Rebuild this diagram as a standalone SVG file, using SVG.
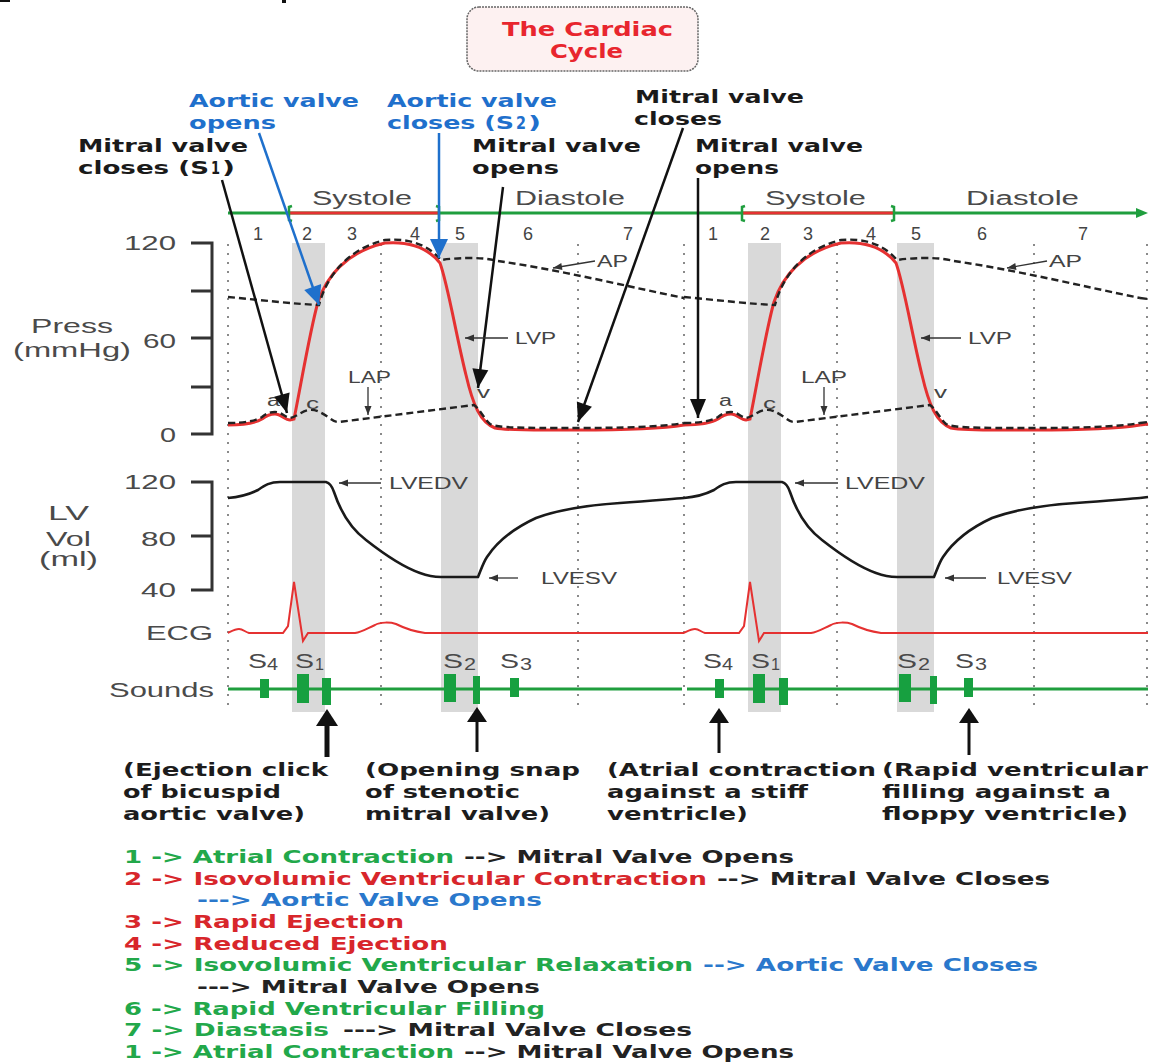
<svg xmlns="http://www.w3.org/2000/svg" width="1153" height="1064" viewBox="0 0 1153 1064">
<defs>
<style>
.ann{font-family:"DejaVu Sans",Verdana,sans-serif;font-weight:bold;font-size:18px;fill:#1a1a1a}
.ann.blue{fill:#1f70cc}
.ttl{font-family:"DejaVu Sans",Verdana,sans-serif;font-weight:bold;font-size:20px;fill:#e8262e}
.ax{font-family:"Liberation Sans",Arial,sans-serif;font-size:20px;fill:#4a4a4a}
.sm{font-family:"Liberation Sans",Arial,sans-serif;font-size:16px;fill:#444}
.ph{font-family:"Liberation Sans",Arial,sans-serif;font-size:18px;fill:#444}
.sl{font-family:"Liberation Sans",Arial,sans-serif;font-size:21px;fill:#4a4a4a}
.sd{font-family:"Liberation Sans",Arial,sans-serif;font-size:16px;fill:#4a4a4a}
.note{font-family:"DejaVu Sans Condensed","DejaVu Sans",sans-serif;font-weight:bold;font-size:18px;fill:#1c1c1c}
.leg{font-family:"DejaVu Sans",Verdana,sans-serif;font-weight:bold;font-size:17px}
.g{fill:#22a84a}.r{fill:#d8262b}.b{fill:#2a78cc}.k{fill:#222}
.dot{stroke:#8a8a8a;stroke-width:2;stroke-dasharray:2 7}
.band{fill:#d9d9d9}
.lvp{fill:none;stroke:#e53131;stroke-width:3}
.dash{fill:none;stroke:#222;stroke-width:2.4;stroke-dasharray:7 4}
.vol{fill:none;stroke:#1a1a1a;stroke-width:2.6}
.ecg{fill:none;stroke:#e53131;stroke-width:2}
.snd{stroke:#1f9e3e;stroke-width:3}
.tick{fill:#17a040}
.brk{fill:none;stroke:#333;stroke-width:3}
.ka{fill:none;stroke:#111;stroke-width:2.5;marker-end:url(#hk)}
.ba{fill:none;stroke:#1f70cc;stroke-width:2.5;marker-end:url(#hb)}
.ga{fill:none;stroke:#333;stroke-width:1.3;marker-end:url(#hg)}
.up{fill:#111}
</style>
<marker id="hk" markerUnits="userSpaceOnUse" markerWidth="20" markerHeight="18" viewBox="-20 -9 20 18" refX="0" refY="0" orient="auto"><path d="M0,0 L-19,-8 L-19,8 Z" fill="#111"/></marker>
<marker id="hb" markerUnits="userSpaceOnUse" markerWidth="20" markerHeight="18" viewBox="-20 -9 20 18" refX="0" refY="0" orient="auto"><path d="M0,0 L-19,-9 L-19,9 Z" fill="#1f70cc"/></marker>
<marker id="hg" markerUnits="userSpaceOnUse" markerWidth="10" markerHeight="8" viewBox="-10 -4 10 8" refX="0" refY="0" orient="auto"><path d="M0,0 L-9,-3.5 L-9,3.5 Z" fill="#333"/></marker>
<path id="lvpC" d="M228,425 C245,425 255,423 262,419 C267,415 270,414 275,414 C281,414 285,420 290,420 L294,419 C300,390 310,330 318,302 C326,278 345,252 385,243 C410,241 428,248 440,263 C448,285 456,335 466,375 C473,405 480,422 495,428 C510,431 540,430 577,430 C620,430 660,429 684,425"/>
<path id="apC" d="M228,297 C260,300 295,304 319,305 C325,282 343,250 385,240 C410,238 428,245 441,260 C448,259 458,258 470,258 C482,258 490,259 498,261 C560,270 630,287 684,298"/>
<path id="lapC" d="M228,423 C245,423 255,421 262,417 C267,413 270,412 275,412 C281,412 285,417 290,418 C296,417 302,411 309,410 C316,409 322,413 328,417 C332,420 334,422 339,422 L474,405 C480,409 484,419 490,424 C498,428 520,428 577,428 C620,428 660,427 684,423"/>
<path id="volC" d="M228,498 C240,497 250,494 258,490 C265,485 270,482 280,482 L326,482 C330,483 332,486 334,492 C340,510 350,528 366,540 C380,551 400,566 420,573 C428,576 434,577 441,577 L478,577 C481,570 483,563 487,557 C495,545 510,530 536,518 C560,509 590,505 620,503 C650,501 670,499 684,498"/>
<path id="ecgC" d="M228,633 C232,631 235,629 239,629 C243,629 245,632 249,633 L283,633 L288,626 L294,582 L303,641 L308,633 L355,633 C362,632 368,628 375,625 C380,622 390,622 396,624 C402,627 410,631 425,633 L684,633"/>
</defs>

<rect x="0" y="0" width="1153" height="1064" fill="#ffffff"/>
<rect x="0" y="0" width="10" height="2" fill="#111"/>
<rect x="282" y="0" width="4" height="3" fill="#111"/>

<g id="title">
<rect x="467" y="7" width="231" height="64" rx="12" fill="#fdf1f1" stroke="#666" stroke-width="1.5" stroke-dasharray="2 1"/>
<text class="ttl" x="502" y="36" textLength="171" lengthAdjust="spacingAndGlyphs">The Cardiac</text>
<text class="ttl" x="550" y="58" textLength="73" lengthAdjust="spacingAndGlyphs">Cycle</text>
</g>

<g id="grid">
<g class="dot">
<line x1="228" y1="244" x2="228" y2="712"/>
<line x1="381" y1="244" x2="381" y2="712"/>
<line x1="578" y1="244" x2="578" y2="712"/>
<line x1="684" y1="244" x2="684" y2="712"/>
<line x1="837" y1="244" x2="837" y2="712"/>
<line x1="1034" y1="244" x2="1034" y2="712"/>
<line x1="1147" y1="244" x2="1147" y2="712"/>
</g>
<rect class="band" x="292" y="243" width="33" height="469"/>
<rect class="band" x="441" y="243" width="37" height="469"/>
<rect class="band" x="748" y="243" width="33" height="469"/>
<rect class="band" x="897" y="243" width="37" height="469"/>
</g>

<g id="phase-bar">
<line x1="228" y1="213" x2="1138" y2="213" stroke="#1f9e3e" stroke-width="3"/>
<polygon points="1148,213 1136,208 1136,218" fill="#1f9e3e"/>
<line x1="290" y1="213" x2="438" y2="213" stroke="#e53131" stroke-width="3"/>
<line x1="742" y1="213" x2="893" y2="213" stroke="#e53131" stroke-width="3"/>
<g stroke="#1f9e3e" stroke-width="2.5" fill="none">
<path d="M292,206 L289,207 L289,220 L292,221"/>
<path d="M436,206 L439,207 L439,220 L436,221"/>
<path d="M745,206 L742,207 L742,220 L745,221"/>
<path d="M891,206 L894,207 L894,220 L891,221"/>
</g>
<text class="ax" x="312" y="205" textLength="100" lengthAdjust="spacingAndGlyphs">Systole</text>
<text class="ax" x="515" y="205" textLength="110" lengthAdjust="spacingAndGlyphs">Diastole</text>
<text class="ax" x="765" y="205" textLength="101" lengthAdjust="spacingAndGlyphs">Systole</text>
<text class="ax" x="966" y="205" textLength="113" lengthAdjust="spacingAndGlyphs">Diastole</text>
<g class="ph" text-anchor="middle">
<text x="258" y="240">1</text><text x="307" y="240">2</text><text x="352" y="240">3</text><text x="415" y="240">4</text><text x="460" y="240">5</text><text x="528" y="240">6</text><text x="628" y="240">7</text>
<text x="713" y="240">1</text><text x="765" y="240">2</text><text x="808" y="240">3</text><text x="871" y="240">4</text><text x="916" y="240">5</text><text x="982" y="240">6</text><text x="1083" y="240">7</text>
</g>
</g>

<g id="pressure-axis">
<path class="brk" d="M191,243 H212 V434 H191 M191,291 H212 M191,338 H212 M191,387 H212"/>
<text class="ax" x="124" y="250" textLength="52" lengthAdjust="spacingAndGlyphs">120</text>
<text class="ax" x="143" y="348" textLength="33" lengthAdjust="spacingAndGlyphs">60</text>
<text class="ax" x="160" y="442" textLength="16" lengthAdjust="spacingAndGlyphs">0</text>
<text class="ax" x="31" y="333" textLength="82" lengthAdjust="spacingAndGlyphs">Press</text>
<text class="ax" x="13" y="357" textLength="118" lengthAdjust="spacingAndGlyphs">(mmHg)</text>
</g>

<g id="pressure-curves">
<use href="#lvpC" class="lvp"/>
<use href="#lvpC" class="lvp" transform="translate(456,0)"/>
<path class="lvp" d="M1140,425 L1148,424"/>
<use href="#apC" class="dash"/>
<use href="#apC" class="dash" transform="translate(456,0)"/>
<path class="dash" d="M1140,298 L1148,299"/>
<use href="#lapC" class="dash"/>
<use href="#lapC" class="dash" transform="translate(456,0)"/>
<path class="dash" d="M1140,423 L1148,422"/>
</g>

<g id="pressure-labels">
<text class="sm" x="267" y="406" textLength="13" lengthAdjust="spacingAndGlyphs">a</text>
<text class="sm" x="306" y="409" textLength="13" lengthAdjust="spacingAndGlyphs">c</text>
<text class="sm" x="477" y="398" textLength="13" lengthAdjust="spacingAndGlyphs">v</text>
<text class="sm" x="719" y="406" textLength="13" lengthAdjust="spacingAndGlyphs">a</text>
<text class="sm" x="763" y="409" textLength="13" lengthAdjust="spacingAndGlyphs">c</text>
<text class="sm" x="934" y="398" textLength="13" lengthAdjust="spacingAndGlyphs">v</text>
<text class="sm" x="348" y="383" textLength="43" lengthAdjust="spacingAndGlyphs">LAP</text>
<text class="sm" x="801" y="383" textLength="46" lengthAdjust="spacingAndGlyphs">LAP</text>
<text class="sm" x="515" y="344" textLength="41" lengthAdjust="spacingAndGlyphs">LVP</text>
<text class="sm" x="968" y="344" textLength="44" lengthAdjust="spacingAndGlyphs">LVP</text>
<text class="sm" x="597" y="267" textLength="31" lengthAdjust="spacingAndGlyphs">AP</text>
<text class="sm" x="1049" y="267" textLength="33" lengthAdjust="spacingAndGlyphs">AP</text>
</g>

<g id="volume-axis">
<path class="brk" d="M191,482 H212 V590 H191 M191,536 H212"/>
<text class="ax" x="124" y="489" textLength="52" lengthAdjust="spacingAndGlyphs">120</text>
<text class="ax" x="141" y="546" textLength="35" lengthAdjust="spacingAndGlyphs">80</text>
<text class="ax" x="141" y="597" textLength="35" lengthAdjust="spacingAndGlyphs">40</text>
<text class="ax" x="48" y="520" textLength="41" lengthAdjust="spacingAndGlyphs">LV</text>
<text class="ax" x="46" y="546" textLength="45" lengthAdjust="spacingAndGlyphs">Vol</text>
<text class="ax" x="39" y="566" textLength="59" lengthAdjust="spacingAndGlyphs">(ml)</text>
</g>

<g id="volume-curve">
<use href="#volC" class="vol"/>
<use href="#volC" class="vol" transform="translate(456,0)"/>
<path class="vol" d="M1140,498 L1148,497"/>
<text class="sm" x="389" y="489" textLength="79" lengthAdjust="spacingAndGlyphs">LVEDV</text>
<text class="sm" x="845" y="489" textLength="80" lengthAdjust="spacingAndGlyphs">LVEDV</text>
<text class="sm" x="541" y="584" textLength="76" lengthAdjust="spacingAndGlyphs">LVESV</text>
<text class="sm" x="997" y="584" textLength="75" lengthAdjust="spacingAndGlyphs">LVESV</text>
</g>

<g id="ecg">
<text class="ax" x="146" y="640" textLength="67" lengthAdjust="spacingAndGlyphs">ECG</text>
<use href="#ecgC" class="ecg"/>
<use href="#ecgC" class="ecg" transform="translate(456,0)"/>
<path class="ecg" d="M1140,633 L1148,633"/>
</g>

<g id="sounds">
<text class="ax" x="109" y="697" textLength="105" lengthAdjust="spacingAndGlyphs">Sounds</text>
<line class="snd" x1="228" y1="689" x2="682" y2="689"/>
<line class="snd" x1="687" y1="689" x2="1148" y2="689"/>
<g class="tick">
<rect x="260" y="679" width="9" height="19"/>
<rect x="297" y="674" width="12" height="29"/>
<rect x="322" y="678" width="9" height="27"/>
<rect x="444" y="674" width="12" height="28"/>
<rect x="473" y="676" width="7" height="28"/>
<rect x="510" y="678" width="9" height="19"/>
<rect x="715" y="679" width="9" height="19"/>
<rect x="753" y="674" width="12" height="29"/>
<rect x="779" y="678" width="9" height="27"/>
<rect x="899" y="674" width="12" height="28"/>
<rect x="930" y="676" width="7" height="28"/>
<rect x="964" y="678" width="9" height="19"/>
</g>
<text class="sl" x="248" y="668" textLength="19" lengthAdjust="spacingAndGlyphs">S</text><text class="sd" x="267" y="670" textLength="11" lengthAdjust="spacingAndGlyphs">4</text>
<text class="sl" x="295" y="668" textLength="19" lengthAdjust="spacingAndGlyphs">S</text><text class="sd" x="315" y="670" textLength="9" lengthAdjust="spacingAndGlyphs">1</text>
<text class="sl" x="443" y="668" textLength="20" lengthAdjust="spacingAndGlyphs">S</text><text class="sd" x="464" y="670" textLength="12" lengthAdjust="spacingAndGlyphs">2</text>
<text class="sl" x="500" y="668" textLength="19" lengthAdjust="spacingAndGlyphs">S</text><text class="sd" x="520" y="670" textLength="12" lengthAdjust="spacingAndGlyphs">3</text>
<text class="sl" x="703" y="668" textLength="19" lengthAdjust="spacingAndGlyphs">S</text><text class="sd" x="722" y="670" textLength="11" lengthAdjust="spacingAndGlyphs">4</text>
<text class="sl" x="751" y="668" textLength="19" lengthAdjust="spacingAndGlyphs">S</text><text class="sd" x="771" y="670" textLength="9" lengthAdjust="spacingAndGlyphs">1</text>
<text class="sl" x="897" y="668" textLength="20" lengthAdjust="spacingAndGlyphs">S</text><text class="sd" x="918" y="670" textLength="12" lengthAdjust="spacingAndGlyphs">2</text>
<text class="sl" x="955" y="668" textLength="19" lengthAdjust="spacingAndGlyphs">S</text><text class="sd" x="975" y="670" textLength="12" lengthAdjust="spacingAndGlyphs">3</text>
</g>

<g id="label-aortic-opens">
<text class="ann blue" x="189" y="107" textLength="170" lengthAdjust="spacingAndGlyphs">Aortic valve</text>
<text class="ann blue" x="189" y="129" textLength="87" lengthAdjust="spacingAndGlyphs">opens</text>
</g>
<g id="label-aortic-closes">
<text class="ann blue" x="387" y="107" textLength="170" lengthAdjust="spacingAndGlyphs">Aortic valve</text>
<text class="ann blue" x="387" y="129" textLength="127" lengthAdjust="spacingAndGlyphs">closes (S</text>
<text class="ann blue" x="516" y="129" font-size="13" textLength="10" lengthAdjust="spacingAndGlyphs">2</text>
<text class="ann blue" x="528" y="129" textLength="13" lengthAdjust="spacingAndGlyphs">)</text>
</g>
<g id="label-mitral-closes-s1">
<text class="ann" x="78" y="152" textLength="170" lengthAdjust="spacingAndGlyphs">Mitral valve</text>
<text class="ann" x="78" y="174" textLength="131" lengthAdjust="spacingAndGlyphs">closes (S</text>
<text class="ann" x="211" y="174" font-size="13" textLength="9" lengthAdjust="spacingAndGlyphs">1</text>
<text class="ann" x="222" y="174" textLength="13" lengthAdjust="spacingAndGlyphs">)</text>
</g>
<g id="label-mitral-opens-1">
<text class="ann" x="472" y="152" textLength="169" lengthAdjust="spacingAndGlyphs">Mitral valve</text>
<text class="ann" x="472" y="174" textLength="87" lengthAdjust="spacingAndGlyphs">opens</text>
</g>
<g id="label-mitral-closes">
<text class="ann" x="635" y="103" textLength="169" lengthAdjust="spacingAndGlyphs">Mitral valve</text>
<text class="ann" x="634" y="125" textLength="88" lengthAdjust="spacingAndGlyphs">closes</text>
</g>
<g id="label-mitral-opens-2">
<text class="ann" x="695" y="152" textLength="168" lengthAdjust="spacingAndGlyphs">Mitral valve</text>
<text class="ann" x="695" y="174" textLength="84" lengthAdjust="spacingAndGlyphs">opens</text>
</g>

<g id="connectors">
<line class="ka" x1="222" y1="180" x2="287" y2="413"/>
<line class="ba" x1="259" y1="133" x2="319" y2="305"/>
<line class="ba" x1="439" y1="133" x2="439" y2="258"/>
<line class="ka" x1="503" y1="187" x2="478" y2="388"/>
<line class="ka" x1="683" y1="128" x2="578" y2="422"/>
<line class="ka" x1="698" y1="178" x2="698" y2="418"/>
<line class="ga" x1="368" y1="387" x2="368" y2="415"/>
<line class="ga" x1="824" y1="387" x2="824" y2="415"/>
<line class="ga" x1="508" y1="338" x2="465" y2="338"/>
<line class="ga" x1="961" y1="338" x2="921" y2="338"/>
<line class="ga" x1="595" y1="261" x2="553" y2="268"/>
<line class="ga" x1="1047" y1="261" x2="1007" y2="268"/>
<line class="ga" x1="381" y1="483" x2="339" y2="483"/>
<line class="ga" x1="838" y1="483" x2="795" y2="483"/>
<line class="ga" x1="518" y1="578" x2="489" y2="578"/>
<line class="ga" x1="986" y1="578" x2="945" y2="578"/>
<g id="up-arrows">
<line x1="327" y1="722" x2="327" y2="757" stroke="#111" stroke-width="5"/>
<polygon class="up" points="327,709 316,726 338,726"/>
<line x1="477" y1="718" x2="477" y2="752" stroke="#111" stroke-width="3"/>
<polygon class="up" points="477,707 467,722 487,722"/>
<line x1="719" y1="718" x2="719" y2="753" stroke="#111" stroke-width="3"/>
<polygon class="up" points="719,708 709,723 729,723"/>
<line x1="969" y1="718" x2="969" y2="755" stroke="#111" stroke-width="3"/>
<polygon class="up" points="969,708 959,723 979,723"/>
</g>
</g>

<g id="note-ejection-click">
<text class="note" x="123" y="776" textLength="205" lengthAdjust="spacingAndGlyphs">(Ejection click</text>
<text class="note" x="123" y="798" textLength="158" lengthAdjust="spacingAndGlyphs">of bicuspid</text>
<text class="note" x="123" y="820" textLength="182" lengthAdjust="spacingAndGlyphs">aortic valve)</text>
</g>
<g id="note-opening-snap">
<text class="note" x="365" y="776" textLength="215" lengthAdjust="spacingAndGlyphs">(Opening snap</text>
<text class="note" x="365" y="798" textLength="155" lengthAdjust="spacingAndGlyphs">of stenotic</text>
<text class="note" x="365" y="820" textLength="185" lengthAdjust="spacingAndGlyphs">mitral valve)</text>
</g>
<g id="note-atrial">
<text class="note" x="607" y="776" textLength="269" lengthAdjust="spacingAndGlyphs">(Atrial contraction</text>
<text class="note" x="607" y="798" textLength="201" lengthAdjust="spacingAndGlyphs">against a stiff</text>
<text class="note" x="607" y="820" textLength="141" lengthAdjust="spacingAndGlyphs">ventricle)</text>
</g>
<g id="note-rapid-filling">
<text class="note" x="882" y="776" textLength="266" lengthAdjust="spacingAndGlyphs">(Rapid ventricular</text>
<text class="note" x="882" y="798" textLength="229" lengthAdjust="spacingAndGlyphs">filling against a</text>
<text class="note" x="882" y="820" textLength="246" lengthAdjust="spacingAndGlyphs">floppy ventricle)</text>
</g>

<g id="legend" class="leg">
<text class="g" x="124" y="863" textLength="330" lengthAdjust="spacingAndGlyphs">1 -&gt; Atrial Contraction</text>
<text class="k" x="464" y="863" textLength="330" lengthAdjust="spacingAndGlyphs">--&gt; Mitral Valve Opens</text>
<text class="r" x="124" y="885" textLength="583" lengthAdjust="spacingAndGlyphs">2 -&gt; Isovolumic Ventricular Contraction</text>
<text class="k" x="717" y="885" textLength="333" lengthAdjust="spacingAndGlyphs">--&gt; Mitral Valve Closes</text>
<text class="b" x="197" y="906" textLength="345" lengthAdjust="spacingAndGlyphs">---&gt; Aortic Valve Opens</text>
<text class="r" x="124" y="928" textLength="280" lengthAdjust="spacingAndGlyphs">3 -&gt; Rapid Ejection</text>
<text class="r" x="124" y="950" textLength="324" lengthAdjust="spacingAndGlyphs">4 -&gt; Reduced Ejection</text>
<text class="g" x="124" y="971" textLength="569" lengthAdjust="spacingAndGlyphs">5 -&gt; Isovolumic Ventricular Relaxation</text>
<text class="b" x="703" y="971" textLength="335" lengthAdjust="spacingAndGlyphs">--&gt; Aortic Valve Closes</text>
<text class="k" x="197" y="993" textLength="343" lengthAdjust="spacingAndGlyphs">---&gt; Mitral Valve Opens</text>
<text class="g" x="124" y="1015" textLength="421" lengthAdjust="spacingAndGlyphs">6 -&gt; Rapid Ventricular Filling</text>
<text class="g" x="124" y="1036" textLength="205" lengthAdjust="spacingAndGlyphs">7 -&gt; Diastasis</text>
<text class="k" x="343" y="1036" textLength="349" lengthAdjust="spacingAndGlyphs">---&gt; Mitral Valve Closes</text>
<text class="g" x="124" y="1058" textLength="330" lengthAdjust="spacingAndGlyphs">1 -&gt; Atrial Contraction</text>
<text class="k" x="464" y="1058" textLength="330" lengthAdjust="spacingAndGlyphs">--&gt; Mitral Valve Opens</text>
</g>
</svg>
